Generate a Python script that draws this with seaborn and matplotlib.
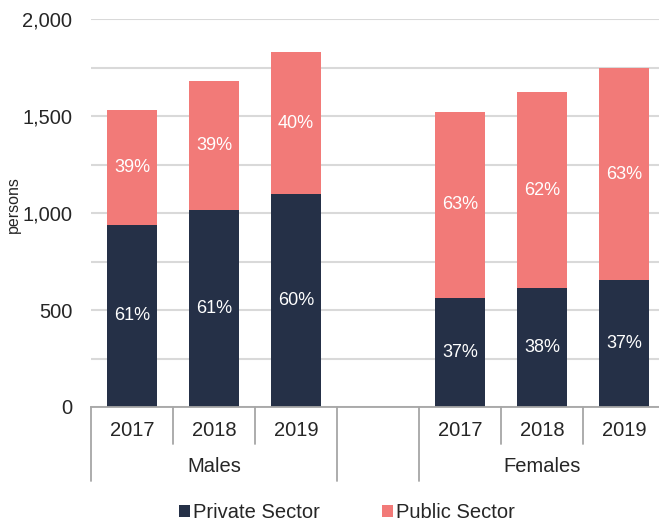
import matplotlib
matplotlib.use("Agg")
import matplotlib.pyplot as plt
import seaborn as sns
import pandas as pd
import numpy as np
from matplotlib.patches import Patch

groups = ["Males", "Males", "Males", "Females", "Females", "Females"]
years = ["2017", "2018", "2019", "2017", "2018", "2019"]
private_sector = [940, 1017, 1096, 563, 611, 653]
public_sector = [591, 662, 734, 959, 1014, 1094]
series_names = ["Private Sector", "Public Sector"]
y_ticks = [0, 500, 1000, 1500, 2000]

PRIV = "#253047"
PUB = "#F27A78"
TXT = "#262626"

slots = ["M2017", "M2018", "M2019", "gap", "F2017", "F2018", "F2019"]
slot_ids = [("M" if g == "Males" else "F") + y for g, y in zip(groups, years)]
df = pd.DataFrame({
    "slot": slot_ids,
    "private": private_sector,
    "public": public_sector,
})
df["total"] = df["private"] + df["public"]

sns.set_theme(style="white")
plt.rcParams["font.family"] = ["Liberation Sans", "DejaVu Sans"]

fig = plt.figure(figsize=(6.59, 5.24), dpi=100)
ax = fig.add_axes([91 / 659, 117 / 524, 574 / 659, 388 / 524])

sns.barplot(data=df, x="slot", y="total", order=slots, color=PUB, width=0.61,
            saturation=1, ax=ax, edgecolor="none", linewidth=0, zorder=3)
sns.barplot(data=df, x="slot", y="private", order=slots, color=PRIV, width=0.61,
            saturation=1, ax=ax, edgecolor="none", linewidth=0, zorder=3)

ax.set_xlim(-0.5, 6.5)
ax.set_ylim(0, 2000)
ax.set_yticks(y_ticks)
ax.set_yticklabels([f"{v:,}" for v in y_ticks], fontsize=14.5, color=TXT)
ax.set_yticks(np.arange(250, 2000, 500), minor=True)
ax.grid(axis="y", which="both", color="#D9D9D9", linewidth=1.5, zorder=0)
ax.set_axisbelow(True)
ax.tick_params(axis="y", which="both", length=0, pad=13.5)
ax.set_xticks([])
ax.set_xlabel("")
ax.set_ylabel("persons", fontsize=11.5, color=TXT)
ax.yaxis.set_label_coords(-0.122, 0.523)
for s in ["left", "right", "top"]:
    ax.spines[s].set_visible(False)
ax.spines["bottom"].set_color("#A6A6A6")
ax.spines["bottom"].set_linewidth(1.3)
ax.spines["bottom"].set_zorder(4)

# percentage labels
for i, row in df.iterrows():
    x = slots.index(row["slot"])
    tot = row["total"]
    ax.text(x, row["private"] / 2, f"{round(100 * row['private'] / tot)}%",
            ha="center", va="center", color="white", fontsize=13, zorder=5)
    ax.text(x, row["private"] + row["public"] / 2, f"{round(100 * row['public'] / tot)}%",
            ha="center", va="center", color="white", fontsize=13, zorder=5)

# category axis separators and labels
trans = ax.get_xaxis_transform()
inner_y = -37 / 388
outer_y = -74 / 388
for xb in [0.5, 1.5, 4.5, 5.5]:
    ax.plot([xb, xb], [0, inner_y], transform=trans, color="#A6A6A6", lw=1.3, clip_on=False)
for xb in [-0.5, 2.5, 3.5, 6.5]:
    ax.plot([xb, xb], [0, outer_y], transform=trans, color="#A6A6A6", lw=1.3, clip_on=False)
for i, sid in enumerate(slot_ids):
    x = slots.index(sid)
    ax.text(x, -24 / 388, years[i], transform=trans, ha="center", va="center",
            fontsize=14.5, color=TXT)
ax.text(1, -60 / 388, "Males", transform=trans, ha="center", va="center", fontsize=14.5, color=TXT)
ax.text(5, -60 / 388, "Females", transform=trans, ha="center", va="center", fontsize=14.5, color=TXT)

handles = [Patch(facecolor=PRIV, edgecolor="none"), Patch(facecolor=PUB, edgecolor="none")]
fig.legend(handles, series_names, loc="center", bbox_to_anchor=(347 / 659, 1 - 513 / 524),
           ncol=2, frameon=False, fontsize=14.5, handlelength=0.55, handleheight=0.55,
           handletextpad=0.12, columnspacing=3.1, labelcolor=TXT)

fig.savefig("out.png", dpi=100)
